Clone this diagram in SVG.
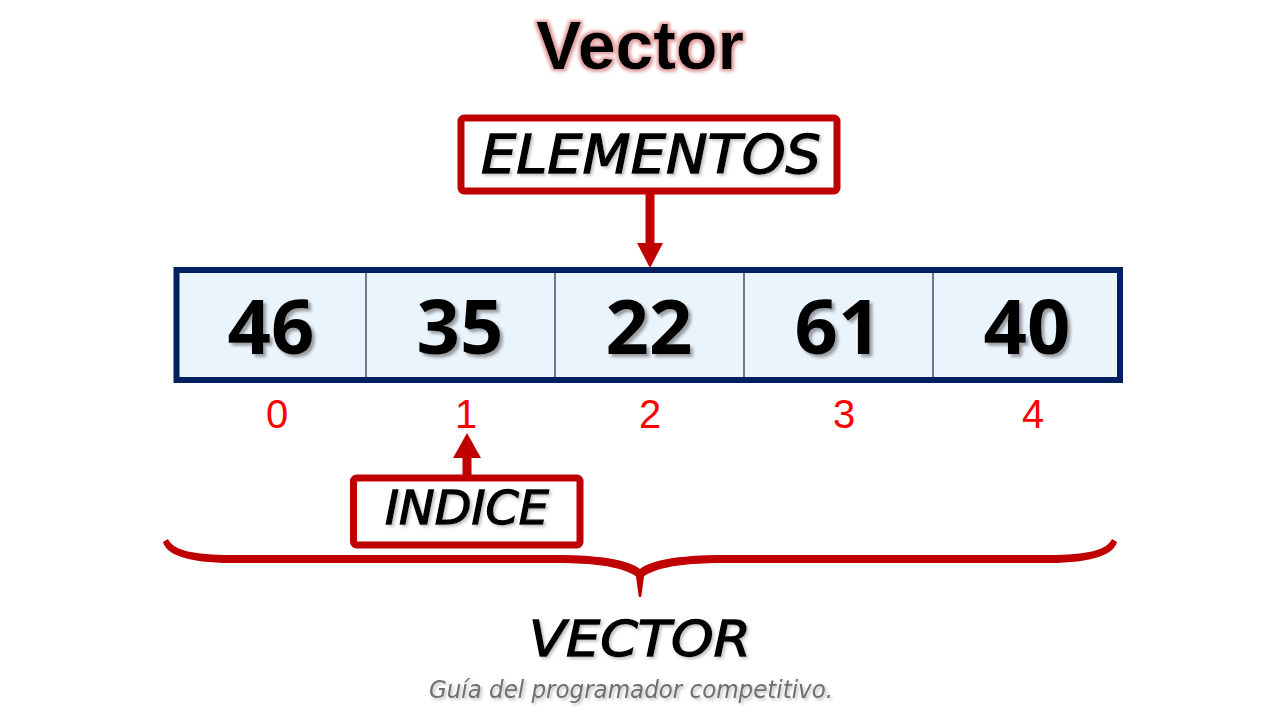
<svg xmlns="http://www.w3.org/2000/svg" width="1280" height="720" viewBox="0 0 1280 720">
<defs>
  <filter id="glow" x="-20%" y="-40%" width="140%" height="180%">
    <feMorphology in="SourceAlpha" operator="dilate" radius="2" result="d"/>
    <feGaussianBlur in="d" stdDeviation="1.6" result="b"/>
    <feFlood flood-color="#e8a0a0"/>
    <feComposite in2="b" operator="in" result="g"/>
    <feOffset in="SourceAlpha" dx="2" dy="2" result="o"/>
    <feGaussianBlur in="o" stdDeviation="2" result="ob"/>
    <feFlood flood-color="#999" flood-opacity="0.5"/>
    <feComposite in2="ob" operator="in" result="sh"/>
    <feMerge><feMergeNode in="sh"/><feMergeNode in="g"/><feMergeNode in="SourceGraphic"/></feMerge>
  </filter>
  <filter id="shadow" x="-20%" y="-20%" width="140%" height="150%">
    <feDropShadow dx="3" dy="3" stdDeviation="1.8" flood-color="#555" flood-opacity="0.55"/>
  </filter>
  <filter id="soft" x="-10%" y="-20%" width="120%" height="150%">
    <feDropShadow dx="2" dy="2" stdDeviation="1.5" flood-color="#777" flood-opacity="0.45"/>
  </filter>
  <style>
    .box { fill: #ffffff; stroke: #C00000; stroke-width: 7; }
    .label { font-family: "DejaVu Sans", "Liberation Sans", sans-serif; font-style: italic; fill: #000; stroke: #000; stroke-width: 1.3; text-anchor: middle; }
    .num { font-family: "Open Sans", "DejaVu Sans", sans-serif; font-weight: bold; font-size: 76px; fill: #000; text-anchor: middle; }
    .idx { font-family: "Liberation Sans", Arial, sans-serif; font-size: 40px; fill: #FF0000; text-anchor: middle; }
    .arrow { fill: #C00000; }
    .div { stroke: #1a2540; stroke-width: 1.2; }
  </style>
</defs>
<rect width="1280" height="720" fill="#ffffff"/>

<g id="title">
  <text x="640" y="69" font-family="Liberation Sans, Arial, sans-serif" font-weight="bold" font-size="68" fill="#000" text-anchor="middle" filter="url(#glow)">Vector</text>
</g>

<g id="elementos">
  <rect class="box" x="461" y="118" width="376" height="73" rx="3"/>
  <text class="label" x="651" y="173" font-size="54" textLength="340" lengthAdjust="spacingAndGlyphs" filter="url(#soft)">ELEMENTOS</text>
</g>

<g id="vector-array">
  <rect x="176.5" y="270" width="943.5" height="110" fill="#EAF4FD" stroke="#002060" stroke-width="6"/>
  <line class="div" x1="366" y1="273" x2="366" y2="377"/>
  <line class="div" x1="555" y1="273" x2="555" y2="377"/>
  <line class="div" x1="744" y1="273" x2="744" y2="377"/>
  <line class="div" x1="933" y1="273" x2="933" y2="377"/>
  <g filter="url(#shadow)">
    <text class="num" x="271" y="354">46</text>
    <text class="num" x="460" y="354">35</text>
    <text class="num" x="649" y="354">22</text>
    <text class="num" x="838" y="354">61</text>
    <text class="num" x="1027" y="354">40</text>
  </g>
</g>

<g id="indices">
  <text class="idx" x="277" y="428">0</text>
  <text class="idx" x="466" y="428">1</text>
  <text class="idx" x="650" y="428">2</text>
  <text class="idx" x="844" y="428">3</text>
  <text class="idx" x="1033" y="428">4</text>
</g>

<g id="indice">
  <rect class="box" x="353.5" y="478" width="226.5" height="67" rx="3"/>
  <text class="label" x="467" y="524" font-size="46" textLength="164" lengthAdjust="spacingAndGlyphs" filter="url(#soft)">INDICE</text>
</g>

<g id="vector-label">
  <text class="label" x="640" y="656" font-size="50" textLength="222" lengthAdjust="spacingAndGlyphs" filter="url(#soft)">VECTOR</text>
</g>

<g id="footer">
  <text x="631" y="698" font-family="DejaVu Sans, sans-serif" font-style="italic" font-size="25" fill="#6f6f6f" text-anchor="middle" textLength="404" lengthAdjust="spacingAndGlyphs" filter="url(#soft)">Guía del programador competitivo.</text>
</g>

<g id="connectors">
  <rect class="arrow" x="645.5" y="194" width="9" height="51"/>
  <polygon class="arrow" points="637,243 663,243 650,268"/>
  <rect class="arrow" x="462.5" y="456" width="9" height="20"/>
  <polygon class="arrow" points="453,458 481,458 467,433"/>
  <g id="brace" fill="#C00000">
    <path d="M168,539 C173,550 192,555 232,555 L555,555 C605,555 630,561 640,569 L640,580 C630,569 605,563 555,563 L232,563 C186,563 166,554 163,542 Z"/>
    <path d="M1112,539 C1107,550 1088,555 1048,555 L725,555 C675,555 650,561 640,569 L640,580 C650,569 675,563 725,563 L1048,563 C1094,563 1114,554 1117,542 Z"/>
    <polygon points="635,570 645,570 641.2,597 638.8,597"/>
  </g>
</g>
</svg>
